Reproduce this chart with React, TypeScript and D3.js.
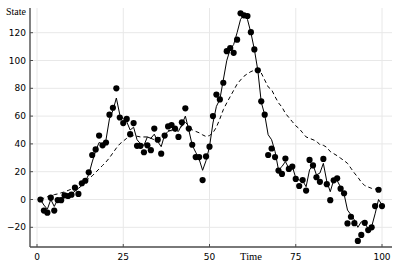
import * as React from "react"
import * as d3 from "d3"

// observations (dots), hidden state (solid) and filtered estimate (dashed), t = 1..100
const observed: number[] = [
    0, -8, -9.5, 1.3, -8, -0.4, -0.5, 3, 2.5, 3.5,
    8.5, 4, 11.7, 13.5, 19.6, 32, 36, 46, 39, 41,
    61, 66, 80, 59, 55, 58, 47, 55, 38.6, 38.6,
    34, 39, 35.5, 51, 43, 33, 46, 52.6, 53.6, 51,
    45, 55.5, 65.6, 51, 39.4, 30.5, 30.5, 14, 31, 38,
    60, 75.5, 72, 84, 106.7, 109, 105.5, 115, 134, 132.5,
    132, 120.4, 108, 93, 70.6, 61, 32, 36.7, 30.5, 20.8,
    18.4, 29.5, 22, 23.7, 14.8, 9.7, 14, 6.4, 28.5, 24.5,
    16, 12.7, 29.2, 11, -0.5, 13.8, 15.3, 7.8, 4.5, -17.2,
    -12.4, -17, -29.8, -25.5, -16.8, -22, -20, -4.7, 7, -4.7,
]

const state: number[] = [
    0, -4, -7, 0, -5, 0, 0.5, 2, 3, 4,
    6, 8, 10, 13, 18, 27, 35, 41, 40, 43,
    58, 64, 73, 61, 58, 56, 50, 52, 43, 40,
    39, 45, 44, 47, 41.6, 38, 46.5, 49, 50, 50,
    49, 54, 60, 50, 39, 34, 29, 21, 28, 38,
    55, 67, 72, 86, 100, 108, 111.5, 120, 129.6, 133,
    129.6, 120, 108, 93, 70, 61, 46.6, 43, 34.5, 21.3,
    23.7, 27.3, 22.4, 24, 15.4, 14, 13.5, 9.2, 21.3, 25,
    17.7, 19, 26, 13, 5.6, 14, 13.6, 8.9, 4, -7.6,
    -11, -14.7, -20, -16, -17, -21, -19.5, -10.3, 0, -4,
]

const estimate: number[] = [
    0, 1, 2, 3, 3.5, 4, 4.8, 5.5, 6.5, 7.5,
    9, 10.5, 12, 13.5, 15, 17, 19.5, 22, 24.5, 27,
    30, 33.5, 37, 40, 42, 44, 45, 46, 45.5, 45,
    45, 45, 44, 43, 44, 45, 47, 49.5, 49.5, 49,
    50.5, 52.6, 55.5, 53, 50, 49, 48, 46.5, 45.3, 46,
    48, 52, 58, 64.6, 69.5, 74, 78.5, 83, 86, 88.7,
    90.5, 92, 93, 93.5, 91, 86, 81, 79, 74, 69.5,
    66.5, 62, 59, 56, 53, 51, 48, 45, 44, 43,
    42, 39.4, 39, 37.5, 34.5, 33, 31.5, 29.7, 28, 26,
    22.5, 19, 16, 12.5, 10, 9, 8, 7.5, 7.5, 8,
]

const xTicks: number[] = [0, 25, 50, 75, 100]
const yTicks: number[] = [-20, 0, 20, 40, 60, 80, 100, 120]

const W = 400
const H = 267
const plot = { left: 30, right: 392, top: 8, bottom: 247 }

const App = (): JSX.Element => {
    const x = d3.scaleLinear().domain([0, 100]).range([37, 382])
    const y = d3.scaleLinear().domain([-20, 120]).range([227.3, 32.7])

    const line = d3.line<number>()
        .x((d, i) => x(i + 1))
        .y((d) => y(d))

    const tickFont = "'DejaVu Sans', sans-serif"
    const guideFont = "'Liberation Serif', serif"
    const axisColor = "#4d4d4d"

    return (
        <div style={{ position: "absolute", left: 0, top: 0 }}>
            <svg width={W} height={H} style={{ display: "block", background: "#fff" }}>
                {/* grid */}
                <g stroke="#e8e8e8" strokeWidth={1}>
                    {xTicks.map((t) => (
                        <line key={"gx" + t} x1={x(t)} x2={x(t)} y1={plot.top} y2={plot.bottom} />
                    ))}
                    {yTicks.map((t) => (
                        <line key={"gy" + t} x1={plot.left} x2={plot.right} y1={y(t)} y2={y(t)} />
                    ))}
                </g>

                {/* series */}
                <path d={line(estimate) || ""} fill="none" stroke="#000" strokeWidth={1}
                    strokeDasharray="4,3" />
                <path d={line(state) || ""} fill="none" stroke="#000" strokeWidth={1} />
                <g fill="#000">
                    {observed.map((v, i) => (
                        <circle key={i} cx={x(i + 1)} cy={y(v)} r={3.1} />
                    ))}
                </g>

                {/* axes */}
                <g stroke={axisColor} strokeWidth={1.4}>
                    <line x1={plot.left} x2={plot.left} y1={plot.top} y2={plot.bottom} />
                    <line x1={plot.left} x2={plot.right} y1={plot.bottom} y2={plot.bottom} />
                </g>
                <g stroke={axisColor} strokeWidth={1}>
                    {xTicks.map((t) => (
                        <line key={"tx" + t} x1={x(t)} x2={x(t)} y1={plot.bottom} y2={plot.bottom - 3} />
                    ))}
                    {yTicks.map((t) => (
                        <line key={"ty" + t} x1={plot.left} x2={plot.left + 3} y1={y(t)} y2={y(t)} />
                    ))}
                </g>

                {/* tick labels */}
                <g fontFamily={tickFont} fontSize={9} fill="#000">
                    {xTicks.map((t) => (
                        <text key={"lx" + t} x={x(t)} y={260} textAnchor="middle">{String(t)}</text>
                    ))}
                    {yTicks.map((t) => (
                        <text key={"ly" + t} x={26} y={y(t)} dy="0.35em" textAnchor="end">
                            {t < 0 ? "\u2212" + Math.abs(t) : String(t)}
                        </text>
                    ))}
                </g>

                {/* guides */}
                <text x={6} y={15} fontFamily={guideFont} fontSize={10}>State</text>
                <text x={251} y={260} fontFamily={guideFont} fontSize={10.5} textAnchor="middle">Time</text>
            </svg>
        </div>
    )
}

export default App
